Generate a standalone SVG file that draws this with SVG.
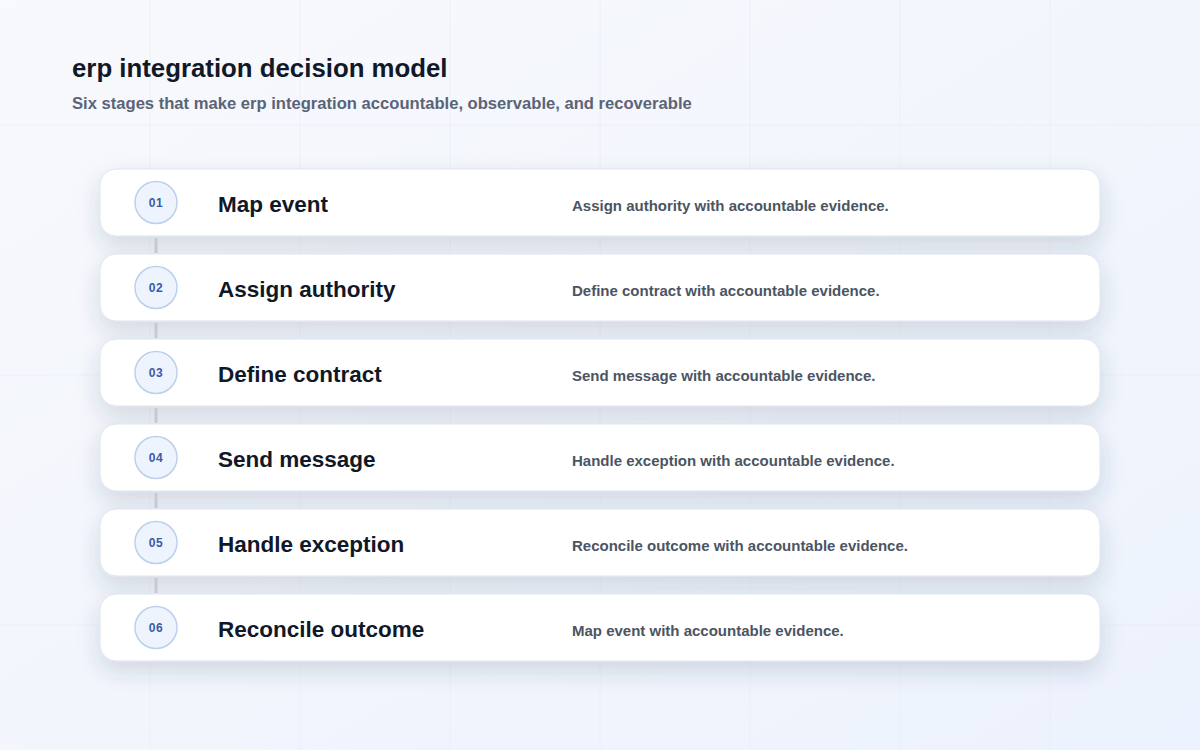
<svg xmlns="http://www.w3.org/2000/svg" width="1200" height="750" viewBox="0 0 1200 750">
<defs>
<linearGradient id="bg" x1="0" y1="0" x2="1" y2="1">
<stop offset="0" stop-color="#f8f9fc"/>
<stop offset="1" stop-color="#ecf2fd"/>
</linearGradient>
<filter id="sh" x="-5%" y="-30%" width="110%" height="200%">
<feDropShadow dx="0" dy="10" stdDeviation="11" flood-color="#2c3a5c" flood-opacity="0.16"/>
</filter>
<style>
.grid{stroke:#e3e8f0;stroke-width:1;opacity:0.45}
.card{fill:#ffffff;stroke:#dde3ee;stroke-width:1;filter:url(#sh)}
.badge{fill:#eef4fd;stroke:#bccfeb;stroke-width:1.5}
.num{font-family:"Liberation Sans",Arial,sans-serif;font-size:12px;font-weight:700;fill:#3b5aa6;text-anchor:middle;letter-spacing:0.5px}
.ttl{font-family:"Liberation Sans",Arial,sans-serif;font-size:22.5px;font-weight:700;fill:#111827}
.dsc{font-family:"Liberation Sans",Arial,sans-serif;font-size:15px;font-weight:700;fill:#4b5563}
.conn{stroke:#c6cad3;stroke-width:3}
</style>
</defs>
<rect width="1200" height="750" fill="url(#bg)"/>
<g id="grid">
<line class="grid" x1="150" y1="0" x2="150" y2="750"/>
<line class="grid" x1="300" y1="0" x2="300" y2="750"/>
<line class="grid" x1="450" y1="0" x2="450" y2="750"/>
<line class="grid" x1="600" y1="0" x2="600" y2="750"/>
<line class="grid" x1="750" y1="0" x2="750" y2="750"/>
<line class="grid" x1="900" y1="0" x2="900" y2="750"/>
<line class="grid" x1="1050" y1="0" x2="1050" y2="750"/>
<line class="grid" x1="0" y1="125" x2="1200" y2="125"/>
<line class="grid" x1="0" y1="375" x2="1200" y2="375"/>
<line class="grid" x1="0" y1="625" x2="1200" y2="625"/>
</g>
<g id="header">
<text x="72" y="77" font-family="'Liberation Sans',Arial,sans-serif" font-size="25.8" font-weight="700" fill="#111827">erp integration decision model</text>
<text x="72" y="109" font-family="'Liberation Sans',Arial,sans-serif" font-size="16.6" font-weight="700" fill="#5b6477">Six stages that make erp integration accountable, observable, and recoverable</text>
</g>
<g id="step1"><rect class="card" x="100" y="169" width="1000" height="67" rx="16"/><circle class="badge" cx="156" cy="202.5" r="21"/><text class="num" x="156" y="207">01</text><text class="ttl" x="218" y="212">Map event</text><text class="dsc" x="572" y="211">Assign authority with accountable evidence.</text></g>
<g id="step2"><rect class="card" x="100" y="254" width="1000" height="67" rx="16"/><circle class="badge" cx="156" cy="287.5" r="21"/><text class="num" x="156" y="292">02</text><text class="ttl" x="218" y="297">Assign authority</text><text class="dsc" x="572" y="296">Define contract with accountable evidence.</text></g>
<g id="step3"><rect class="card" x="100" y="339" width="1000" height="67" rx="16"/><circle class="badge" cx="156" cy="372.5" r="21"/><text class="num" x="156" y="377">03</text><text class="ttl" x="218" y="382">Define contract</text><text class="dsc" x="572" y="381">Send message with accountable evidence.</text></g>
<g id="step4"><rect class="card" x="100" y="424" width="1000" height="67" rx="16"/><circle class="badge" cx="156" cy="457.5" r="21"/><text class="num" x="156" y="462">04</text><text class="ttl" x="218" y="467">Send message</text><text class="dsc" x="572" y="466">Handle exception with accountable evidence.</text></g>
<g id="step5"><rect class="card" x="100" y="509" width="1000" height="67" rx="16"/><circle class="badge" cx="156" cy="542.5" r="21"/><text class="num" x="156" y="547">05</text><text class="ttl" x="218" y="552">Handle exception</text><text class="dsc" x="572" y="551">Reconcile outcome with accountable evidence.</text></g>
<g id="step6"><rect class="card" x="100" y="594" width="1000" height="67" rx="16"/><circle class="badge" cx="156" cy="627.5" r="21"/><text class="num" x="156" y="632">06</text><text class="ttl" x="218" y="637">Reconcile outcome</text><text class="dsc" x="572" y="636">Map event with accountable evidence.</text></g>
<g id="connectors">
<line class="conn" x1="156" y1="238" x2="156" y2="253"/>
<line class="conn" x1="156" y1="323" x2="156" y2="338"/>
<line class="conn" x1="156" y1="408" x2="156" y2="423"/>
<line class="conn" x1="156" y1="493" x2="156" y2="508"/>
<line class="conn" x1="156" y1="578" x2="156" y2="593"/>
</g>
</svg>
